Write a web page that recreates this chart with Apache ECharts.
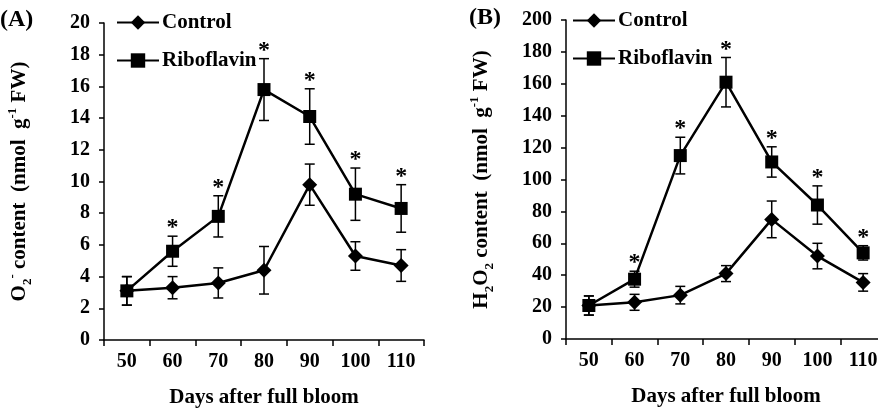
<!DOCTYPE html>
<html>
<head>
<meta charset="utf-8">
<script src="https://cdn.jsdelivr.net/npm/echarts@6/dist/echarts.min.js"></script>
<style>
html, body { margin: 0; padding: 0; background: #fff; }
#chart { width: 878px; height: 408px; }
</style>
</head>
<body>
<div id="chart"></div>
<script>
var days = ['50', '60', '70', '80', '90', '100', '110'];

// panel A: O2- content
var o2Control = [3.1, 3.3, 3.6, 4.4, 9.8, 5.3, 4.7];
var o2ControlErr = [0.9, 0.7, 0.95, 1.5, 1.3, 0.9, 1.0];
var o2Ribo = [3.1, 5.6, 7.8, 15.8, 14.1, 9.2, 8.3];
var o2RiboErr = [0.9, 0.95, 1.3, 1.95, 1.75, 1.65, 1.5];
var o2Sig = [0, 1, 1, 1, 1, 1, 1];

// panel B: H2O2 content
var h2o2Control = [21, 23, 27.5, 41, 75, 52, 35.5];
var h2o2ControlErr = [6, 5, 5.5, 5, 11.5, 8, 5.5];
var h2o2Ribo = [21, 37.5, 115, 161, 111, 84, 54];
var h2o2RiboErr = [6, 5, 11.5, 15.5, 9.5, 12, 4.5];
var h2o2Sig = [0, 1, 1, 1, 1, 1, 1];

var FONT = "'Liberation Serif', 'Times New Roman', serif";

function errData(vals, errs, sig) {
    var out = [];
    for (var i = 0; i < vals.length; i++) {
        out.push([i, vals[i], errs[i], sig ? sig[i] : 0]);
    }
    return out;
}

function renderErr(params, api) {
    var x = api.value(0), v = api.value(1), e = api.value(2), s = api.value(3);
    var hi = api.coord([x, v + e]);
    var lo = api.coord([x, v - e]);
    var cap = 5;
    var st = { stroke: '#000', lineWidth: 1.5 };
    var children = [
        { type: 'line', shape: { x1: hi[0], y1: hi[1], x2: lo[0], y2: lo[1] }, style: st },
        { type: 'line', shape: { x1: hi[0] - cap, y1: hi[1], x2: hi[0] + cap, y2: hi[1] }, style: st },
        { type: 'line', shape: { x1: lo[0] - cap, y1: lo[1], x2: lo[0] + cap, y2: lo[1] }, style: st }
    ];
    if (s) {
        // significance mark above the error bar
        children.push({
            type: 'text',
            style: {
                text: '*', x: hi[0], y: hi[1] + 4,
                align: 'center', verticalAlign: 'bottom',
                font: 'bold 24px ' + FONT, fill: '#000'
            }
        });
    }
    return { type: 'group', children: children };
}

function xAxis(idx) {
    return {
        type: 'category', gridIndex: idx, data: days, boundaryGap: true,
        name: 'Days after full bloom', nameLocation: 'middle', nameGap: 47,
        nameTextStyle: { fontFamily: FONT, fontWeight: 'bold', fontSize: 21, color: '#000' },
        axisLine: { lineStyle: { color: '#000', width: 1.5 } },
        axisTick: { show: true, length: 6, lineStyle: { color: '#000', width: 1.5 } },
        axisLabel: { fontFamily: FONT, fontWeight: 'bold', fontSize: 20, color: '#000', margin: 12 },
        splitLine: { show: false }
    };
}

var richName = {
    n: { fontFamily: FONT, fontWeight: 'bold', fontSize: 21, color: '#000', lineHeight: 28 },
    sub: { fontFamily: FONT, fontWeight: 'bold', fontSize: 13, color: '#000', lineHeight: 28, verticalAlign: 'bottom' },
    sup: { fontFamily: FONT, fontWeight: 'bold', fontSize: 13, color: '#000', lineHeight: 28, verticalAlign: 'top' }
};

function yAxis(idx, max, interval, name, gap) {
    return {
        type: 'value', gridIndex: idx, min: 0, max: max, interval: interval,
        name: name, nameLocation: 'middle', nameGap: gap,
        nameTextStyle: { rich: richName },
        axisLine: { show: true, lineStyle: { color: '#000', width: 1.5 } },
        axisTick: { show: true, length: 5, lineStyle: { color: '#000', width: 1.5 } },
        axisLabel: { fontFamily: FONT, fontWeight: 'bold', fontSize: 20, color: '#000', margin: 14 },
        splitLine: { show: false }
    };
}

function lineSeries(name, idx, data, symbol, size) {
    return {
        name: name, type: 'line', xAxisIndex: idx, yAxisIndex: idx, data: data,
        symbol: symbol, symbolSize: size, showAllSymbol: true,
        lineStyle: { color: '#000', width: 2.5 },
        itemStyle: { color: '#000' },
        z: 3
    };
}

function errSeries(idx, vals, errs, sig) {
    return {
        type: 'custom', xAxisIndex: idx, yAxisIndex: idx,
        data: errData(vals, errs, sig), renderItem: renderErr, z: 2, silent: true
    };
}

function legend(left, top) {
    return {
        orient: 'vertical', left: left, top: top,
        itemWidth: 42, itemHeight: 18, itemGap: 17,
        data: ['Control', 'Riboflavin'],
        textStyle: { fontFamily: FONT, fontWeight: 'bold', fontSize: 21, color: '#000', padding: [0, 0, 0, -2] }
    };
}

var chart = echarts.init(document.getElementById('chart'));
chart.setOption({
    backgroundColor: '#fff',
    animation: false,
    legend: [legend(111, 7), legend(567, 5)],
    grid: [
        { left: 104, top: 23, width: 320, height: 317, outerBoundsMode: 'none', containLabel: false },
        { left: 566, top: 20, width: 320, height: 319, outerBoundsMode: 'none', containLabel: false }
    ],
    xAxis: [xAxis(0), xAxis(1)],
    yAxis: [
        yAxis(0, 20, 2, '{n|O}{sub|2}{sup|-}{n| content  (nmol  g}{sup|-1}{n| FW)}', 70),
        yAxis(1, 200, 20, '{n|H}{sub|2}{n|O}{sub|2}{n| content  (nmol  g}{sup|-1}{n| FW)}', 70)
    ],
    graphic: [
        { type: 'text', left: 0, top: 8, style: { text: '(A)', font: 'bold 24px ' + FONT, fill: '#000' } },
        { type: 'text', left: 469, top: 6, style: { text: '(B)', font: 'bold 24px ' + FONT, fill: '#000' } }
    ],
    series: [
        errSeries(0, o2Control, o2ControlErr, null),
        errSeries(0, o2Ribo, o2RiboErr, o2Sig),
        lineSeries('Control', 0, o2Control, 'diamond', 15),
        lineSeries('Riboflavin', 0, o2Ribo, 'rect', 13),
        errSeries(1, h2o2Control, h2o2ControlErr, null),
        errSeries(1, h2o2Ribo, h2o2RiboErr, h2o2Sig),
        lineSeries('Control', 1, h2o2Control, 'diamond', 15),
        lineSeries('Riboflavin', 1, h2o2Ribo, 'rect', 13)
    ]
});
</script>
</body>
</html>
